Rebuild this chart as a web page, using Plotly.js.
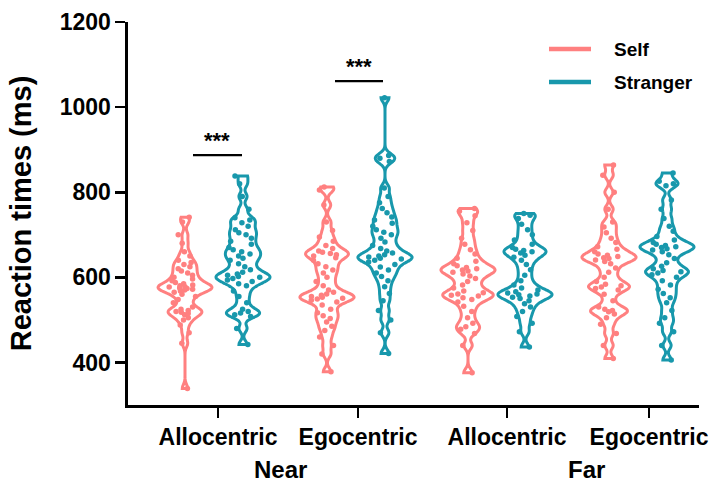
<!DOCTYPE html>
<html><head><meta charset="utf-8">
<script src="https://cdn.plot.ly/plotly-3.0.1.min.js"></script>
<style>html,body{margin:0;padding:0;background:#fff}#c{width:716px;height:483px}</style>
</head><body><div id="c"></div>
<script>
// ---- data (reaction times, ms) ----
const conditions = ["Allocentric", "Egocentric", "Allocentric", "Egocentric"];
const distances = ["Near", "Far"];
const groups = ["Self", "Stranger"];
const selfNearAllo = [339,445,470,488,500,505,512,515,518,520,522,525,530,540,548,555,560,565,568,570,572,574,575,577,578,580,582,585,588,592,596,600,605,610,615,620,625,630,635,640,650,660,680,700,730,741];
const strangerNearAllo = [442,480,508,512,516,520,525,540,555,568,580,585,590,594,597,600,602,605,608,612,618,625,632,640,645,650,655,660,665,670,678,685,692,700,705,712,720,728,735,740,760,790,820,838];
const selfNearEgo = [378,420,440,460,475,485,495,503,510,517,525,535,542,546,549,551,553,555,558,561,565,570,580,590,600,610,617,625,632,640,646,650,653,656,659,662,668,675,685,695,710,730,770,805,812];
const strangerNearEgo = [421,470,500,522,545,562,578,592,602,610,617,624,630,636,640,643,645,648,650,653,657,662,668,675,683,692,700,706,712,720,727,735,742,752,762,775,790,810,872,880,886,1022];
const selfFarAllo = [376,440,468,478,484,492,505,520,532,542,548,552,556,558,561,564,568,575,582,590,597,603,608,612,615,617,620,623,627,632,638,645,655,665,678,692,710,728,745,755,762];
const strangerFarAllo = [436,472,492,508,520,530,538,545,550,553,556,559,561,563,566,570,575,582,592,605,618,630,640,647,652,657,660,663,666,670,678,688,700,712,725,738,746,750];
const selfFarEgo = [409,440,468,490,505,514,519,522,525,530,545,560,570,574,577,580,584,590,600,612,622,632,637,641,644,646,649,652,655,660,666,672,682,692,705,718,730,760,800,840,864];
const strangerFarEgo = [406,440,472,492,505,522,540,552,562,572,582,592,600,606,610,613,616,620,626,634,644,653,660,664,667,670,672,675,678,682,688,696,708,720,738,760,782,815,820,826,845];
const sigLabels = ["***", "***"];

// ---- layout constants (pixel-like x axis) ----
const selfX = [185, 327, 468, 609];
const strangerX = [243, 385, 525, 667];
const tickX = [218, 358, 507, 649];
const distX = [280, 586];
const colSelf = "#FF8080", colStr = "#1898AC";
const FONT = "Liberation Sans, Arial, sans-serif";

const selfData = [selfNearAllo, selfNearEgo, selfFarAllo, selfFarEgo];
const strData = [strangerNearAllo, strangerNearEgo, strangerFarAllo, strangerFarEgo];

function violin(y, x, col, name) {
  return {
    type: "violin", y: y, x0: x, name: name, orientation: "v",
    line: {color: col, width: 3}, fillcolor: "rgba(255,255,255,0)",
    points: "all", pointpos: 0, jitter: 0.7,
    marker: {color: col, size: 5.5, line: {width: 0}},
    spanmode: "hard", bandwidth: 9, width: 54, scalemode: "width",
    box: {visible: false}, meanline: {visible: false},
    showlegend: false, hoverinfo: "y"
  };
}
const traces = [];
for (let i = 0; i < 4; i++) {
  traces.push(violin(selfData[i], selfX[i], colSelf, groups[0]));
  traces.push(violin(strData[i], strangerX[i], colStr, groups[1]));
}

const shapes = [
  {type: "line", xref: "x", yref: "y", x0: 193, x1: 242, y0: 887, y1: 887, line: {color: "#000", width: 2.2}},
  {type: "line", xref: "x", yref: "y", x0: 335, x1: 383, y0: 1061, y1: 1061, line: {color: "#000", width: 2.2}},
  // legend swatches
  {type: "line", xref: "paper", yref: "paper", x0: (549-128)/571, x1: (591-128)/571, y0: (405-49)/383, y1: (405-49)/383, line: {color: colSelf, width: 4.5}},
  {type: "line", xref: "paper", yref: "paper", x0: (549-128)/571, x1: (591-128)/571, y0: (405-82)/383, y1: (405-82)/383, line: {color: colStr, width: 4.5}}
];
const annotations = [
  {x: 217, y: 888, xref: "x", yref: "y", text: sigLabels[0], showarrow: false, yanchor: "bottom", font: {family: FONT, size: 22, weight: 700, color: "#000"}},
  {x: 359, y: 1062, xref: "x", yref: "y", text: sigLabels[1], showarrow: false, yanchor: "bottom", font: {family: FONT, size: 22, weight: 700, color: "#000"}},
  {x: distX[0], y: (405-469)/383, xref: "x", yref: "paper", text: distances[0], showarrow: false, yanchor: "middle", font: {family: FONT, size: 24, weight: 700, color: "#000"}},
  {x: distX[1], y: (405-469)/383, xref: "x", yref: "paper", text: distances[1], showarrow: false, yanchor: "middle", font: {family: FONT, size: 24, weight: 700, color: "#000"}},
  {x: (612-128)/571, y: (405-49)/383, xref: "paper", yref: "paper", text: groups[0], showarrow: false, xanchor: "left", yanchor: "middle", font: {family: FONT, size: 19, weight: 700, color: "#000"}},
  {x: (612-128)/571, y: (405-82)/383, xref: "paper", yref: "paper", text: groups[1], showarrow: false, xanchor: "left", yanchor: "middle", font: {family: FONT, size: 19, weight: 700, color: "#000"}}
];

const layout = {
  width: 716, height: 483,
  margin: {l: 128, r: 17, t: 22, b: 78, pad: 0},
  paper_bgcolor: "#fff", plot_bgcolor: "#fff",
  showlegend: false, violinmode: "overlay",
  font: {family: FONT, color: "#000"},
  xaxis: {
    type: "linear", range: [128, 699], showgrid: false, zeroline: false,
    showline: true, linecolor: "#000", linewidth: 2.6,
    ticks: "outside", ticklen: 10, tickwidth: 2.6, tickcolor: "#000",
    tickvals: tickX, ticktext: conditions,
    tickfont: {family: FONT, size: 23, weight: 700, color: "#000"}
  },
  yaxis: {
    range: [300, 1200], showgrid: false, zeroline: false,
    showline: true, linecolor: "#000", linewidth: 2.6,
    ticks: "outside", ticklen: 10, tickwidth: 2.6, tickcolor: "#000",
    tickvals: [400, 600, 800, 1000, 1200],
    tickfont: {family: FONT, size: 23, weight: 700, color: "#000"},
    title: {text: "Reaction times (ms)", standoff: 20, font: {family: FONT, size: 29, weight: 700, color: "#000"}}
  },
  shapes: shapes, annotations: annotations
};
Plotly.newPlot("c", traces, layout, {displayModeBar: false, staticPlot: true});
</script></body></html>
